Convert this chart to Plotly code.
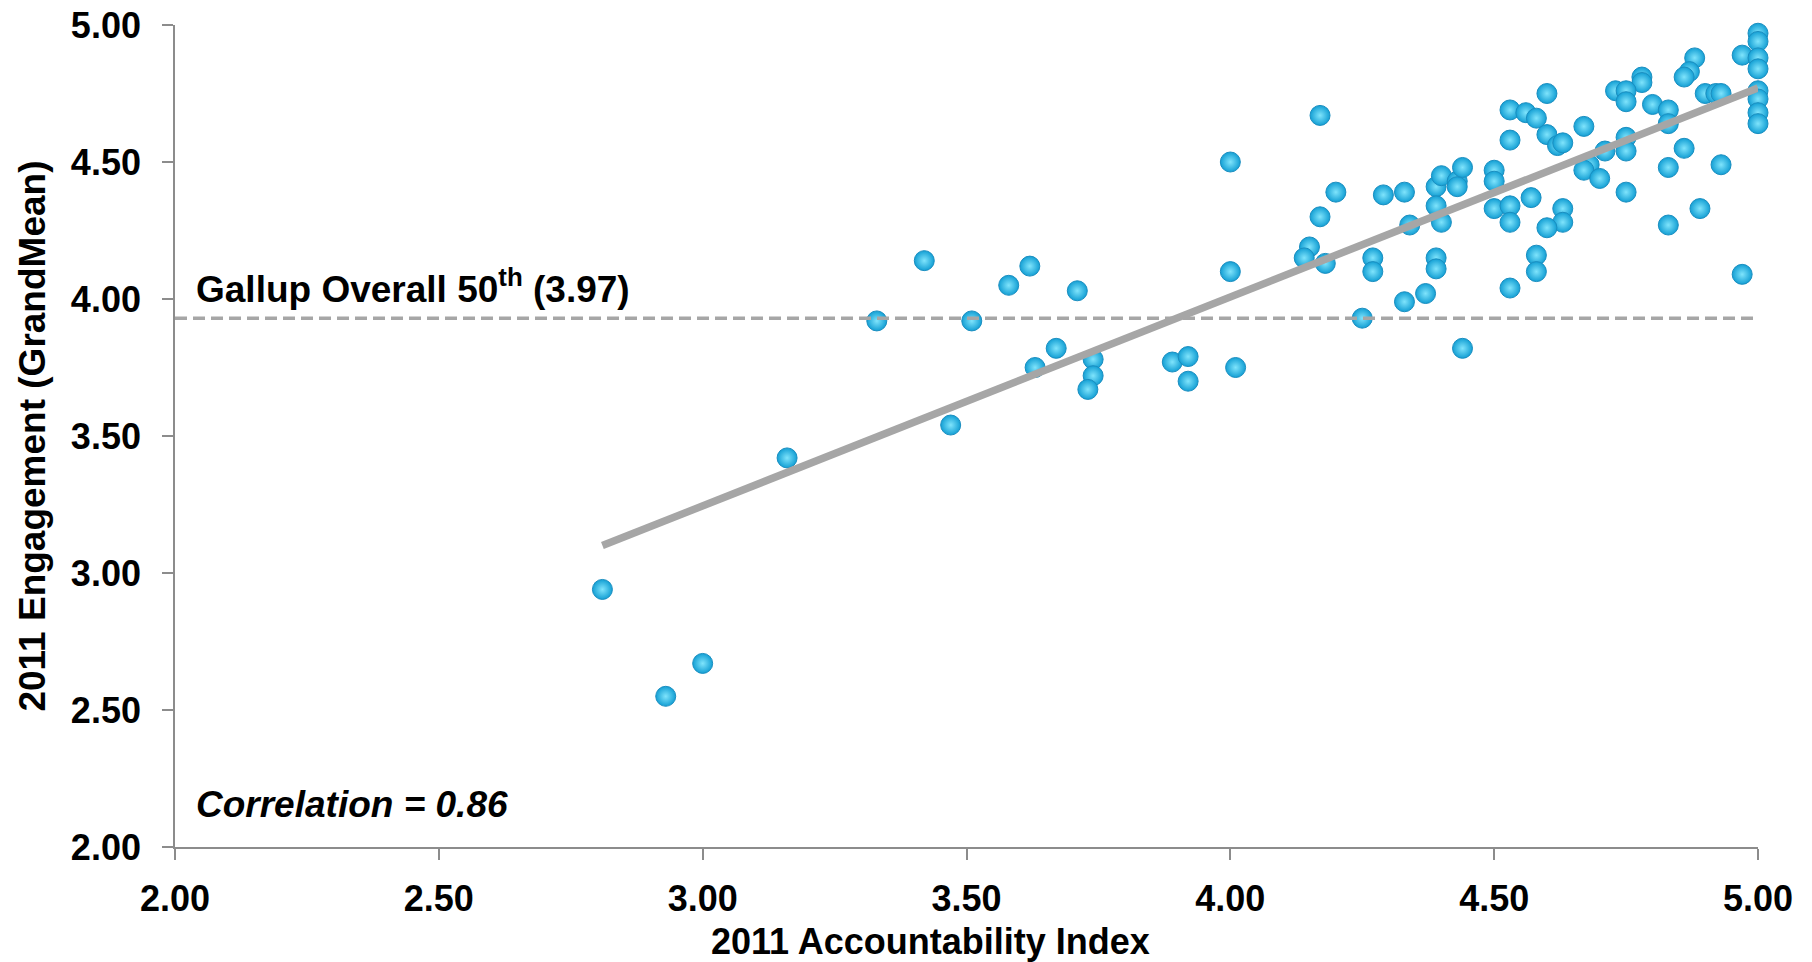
import plotly.graph_objects as go

# ---- data ----
accountability = [
    2.81, 2.93, 3.00, 3.16, 3.33, 3.42, 3.47, 3.51, 3.58, 3.62, 3.63, 3.67, 3.71,
    3.74, 3.74, 3.73, 3.89, 3.92, 3.92, 4.00, 4.00, 4.01,
    4.17, 4.20, 4.17, 4.15, 4.14, 4.18, 4.29, 4.33, 4.27, 4.27, 4.34, 4.33, 4.37,
    4.25, 4.44, 4.39, 4.40, 4.39, 4.40, 4.43, 4.43, 4.44, 4.39, 4.39, 4.50, 4.50,
    4.50, 4.53, 4.53, 4.53, 4.53, 4.53, 4.56, 4.57,
    4.80, 5.00, 5.00, 4.97, 5.00, 5.00, 4.88, 4.87, 4.86, 4.78, 4.78, 4.73, 4.75,
    4.75, 4.80, 4.83, 4.83, 4.90, 4.92, 4.93, 5.00, 5.00, 5.00, 5.00, 4.60, 4.58,
    4.60, 4.62, 4.63, 4.67, 4.71, 4.75, 4.75, 4.68, 4.67, 4.70, 4.86, 4.83, 4.93,
    4.75, 4.63, 4.63, 4.60, 4.89, 4.83, 4.58, 4.58, 4.97,
]
engagement = [
    2.94, 2.55, 2.67, 3.42, 3.92, 4.14, 3.54, 3.92, 4.05, 4.12, 3.75, 3.82, 4.03,
    3.78, 3.72, 3.67, 3.77, 3.79, 3.70, 4.50, 4.10, 3.75,
    4.67, 4.39, 4.30, 4.19, 4.15, 4.13, 4.38, 4.39, 4.15, 4.10, 4.27, 3.99, 4.02,
    3.93, 3.82, 4.41, 4.45, 4.34, 4.28, 4.43, 4.41, 4.48, 4.15, 4.11, 4.47, 4.43,
    4.33, 4.69, 4.58, 4.34, 4.28, 4.04, 4.68, 4.37,
    5.01, 4.97, 4.94, 4.89, 4.88, 4.84, 4.88, 4.83, 4.81, 4.81, 4.79, 4.76, 4.76,
    4.72, 4.71, 4.69, 4.64, 4.75, 4.75, 4.75, 4.76, 4.73, 4.68, 4.64, 4.75, 4.66,
    4.60, 4.56, 4.57, 4.63, 4.54, 4.59, 4.54, 4.49, 4.47, 4.44, 4.55, 4.48, 4.49,
    4.39, 4.33, 4.28, 4.26, 4.33, 4.27, 4.16, 4.10, 4.09,
]

trend_x = [2.81, 5.00]
trend_y = [3.10, 4.77]

benchmark_x = [2.0, 5.0]
benchmark_y = [3.93, 3.93]

axis_ticks = [2.0, 2.5, 3.0, 3.5, 4.0, 4.5, 5.0]
axis_tick_labels = ["2.00", "2.50", "3.00", "3.50", "4.00", "4.50", "5.00"]

x_title = "2011 Accountability Index"
y_title = "2011 Engagement (GrandMean)"
benchmark_label = "Gallup Overall 50<sup>th</sup> (3.97)"
correlation_label = "<i>Correlation = 0.86</i>"

FONT = "Liberation Sans, Arial, sans-serif"
GREY = "#a6a6a6"
AXIS = "#8c8c8c"

fig = go.Figure()

fig.add_trace(go.Scatter(
    x=accountability, y=engagement, mode="markers",
    marker=dict(size=20, color="#139fd4",
                gradient=dict(type="radial", color="#7fe4fc"),
                line=dict(width=1, color="#1a8ec0")),
    cliponaxis=False, showlegend=False, hoverinfo="x+y",
))

fig.add_trace(go.Scatter(
    x=trend_x, y=trend_y, mode="lines",
    line=dict(color=GREY, width=7.5),
    showlegend=False, hoverinfo="skip",
))

fig.add_trace(go.Scatter(
    x=benchmark_x, y=benchmark_y, mode="lines",
    line=dict(color=GREY, width=3.5, dash="12px,6px"),
    showlegend=False, hoverinfo="skip",
))

axis_common = dict(
    range=[2.0, 5.0], tickvals=axis_ticks, ticktext=axis_tick_labels,
    showgrid=False, zeroline=False, showline=True, linecolor=AXIS, linewidth=1.7,
    ticks="outside", ticklen=11, tickwidth=1.7, tickcolor=AXIS, automargin=False,
    ticklabeloverflow="allow",
    tickfont=dict(family=FONT, size=36, color="black", weight="bold"),
)

fig.update_xaxes(**axis_common, ticklabelstandoff=8)
fig.update_yaxes(**axis_common, ticklabelstandoff=14)

fig.add_annotation(
    x=2.042, y=4.046, xref="x", yref="y", text=benchmark_label,
    showarrow=False, xanchor="left", yanchor="middle", xshift=-3,
    font=dict(family=FONT, size=37, color="black", weight="bold"),
)
fig.add_annotation(
    x=2.042, y=2.154, xref="x", yref="y", text=correlation_label,
    showarrow=False, xanchor="left", yanchor="middle", xshift=-3,
    font=dict(family=FONT, size=37, color="black", weight="bold"),
)
fig.add_annotation(
    x=0.477, y=-0.1144, xref="paper", yref="paper", text=x_title,
    showarrow=False, xanchor="center", yanchor="middle",
    font=dict(family=FONT, size=36, color="black", weight="bold"),
)
fig.add_annotation(
    x=-0.0906, y=0.5, xref="paper", yref="paper", text=y_title, textangle=-90,
    showarrow=False, xanchor="center", yanchor="middle",
    font=dict(family=FONT, size=37, color="black", weight="bold"),
)

# page body adds an 8px offset, so the figure is sized to fit inside the window
fig.update_layout(
    width=1804, height=954,
    margin=dict(l=166.5, r=54.3, t=17.4, b=115),
    paper_bgcolor="white", plot_bgcolor="white",
    font=dict(family=FONT, color="black"),
)

fig.write_html("out.html")
